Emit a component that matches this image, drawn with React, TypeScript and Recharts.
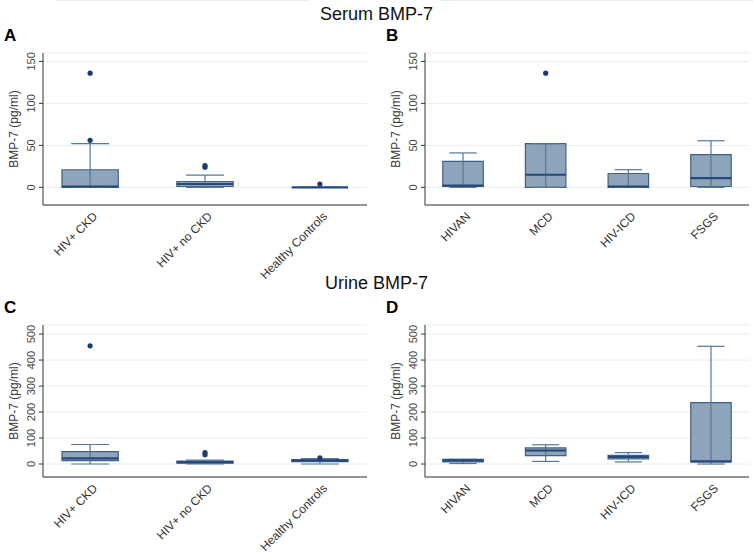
import {
  CartesianGrid,
  ComposedChart,
  ReferenceArea,
  ReferenceLine,
  Scatter,
  XAxis,
  YAxis,
} from "recharts";

// each stats row: [lower whisker, q1, median, q3, upper whisker]
const serumGroups = ["HIV+ CKD", "HIV+ no CKD", "Healthy Controls"];
const serumGroupStats = [
  [0, 0, 1, 21, 52],
  [0, 1, 4, 7, 14.5],
  [0, 0, 0, 0, 0],
];
const serumGroupOutliers = [[56, 136], [24, 26], [4]];

const serumDiseases = ["HIVAN", "MCD", "HIV-ICD", "FSGS"];
const serumDiseaseStats = [
  [0, 1, 2, 31, 41],
  [0, 0, 15, 52, 52],
  [0, 0, 1, 16.5, 21],
  [0, 1, 11, 39, 55.5],
];
const serumDiseaseOutliers = [[], [136], [], []];

const urineGroups = ["HIV+ CKD", "HIV+ no CKD", "Healthy Controls"];
const urineGroupStats = [
  [0, 13, 22, 48, 75],
  [0, 3, 7, 11, 15],
  [0, 9, 13, 17, 21],
];
const urineGroupOutliers = [[455], [36, 44], [24]];

const urineDiseases = ["HIVAN", "MCD", "HIV-ICD", "FSGS"];
const urineDiseaseStats = [
  [2, 8, 14, 18, 18],
  [10, 32, 52, 62, 74],
  [8, 20, 27, 33, 44],
  [0, 8, 10, 236, 453],
];
const urineDiseaseOutliers = [[], [], [], []];

const serumTicks = [0, 50, 100, 150];
const urineTicks = [0, 100, 200, 300, 400, 500];

const FONT = "Arial, 'Liberation Sans', sans-serif";
const BOX_HALF = 0.245;
const CAP_HALF = 0.165;
const WHISKER = "#56769a";

type BoxPanelProps = {
  letter: string;
  categories: string[];
  stats: number[][];
  outliers: number[][];
  yDomain: [number, number];
  yTicks: number[];
  xPad: number;
  left: number;
  top: number;
  width: number;
  rightMargin: number;
};

function YTick(props: any) {
  const { x, y, payload } = props;
  const tx = x - 4;
  return (
    <text
      x={tx}
      y={y}
      transform={`rotate(-90, ${tx}, ${y})`}
      textAnchor="middle"
      fontSize={11}
      fill="#444"
      fontFamily={FONT}
    >
      {payload.value}
    </text>
  );
}

function BoxPanel({
  letter,
  categories,
  stats,
  outliers,
  yDomain,
  yTicks,
  xPad,
  left,
  top,
  width,
  rightMargin,
}: BoxPanelProps) {
  const n = categories.length;
  const outlierPoints = outliers.flatMap((values, i) =>
    values.map((v) => ({ x: i + 1, y: v }))
  );

  const XTick = (props: any) => {
    const { x, y, payload } = props;
    const tx = x + 8;
    const ty = y + 12;
    return (
      <text
        x={tx}
        y={ty}
        transform={`rotate(-45, ${tx}, ${ty})`}
        textAnchor="end"
        fontSize={12}
        fill="#333"
        fontFamily={FONT}
      >
        {categories[payload.value - 1]}
      </text>
    );
  };

  return (
    <div style={{ position: "absolute", left, top }}>
      <div
        style={{
          position: "absolute",
          left: 4,
          top: -18,
          fontFamily: FONT,
          fontWeight: "bold",
          fontSize: 17,
          lineHeight: "17px",
        }}
      >
        {letter}
      </div>
      <ComposedChart
        width={width}
        height={250}
        margin={{ top: 8, right: rightMargin, bottom: 0, left: 0 }}
      >
        <CartesianGrid vertical={false} stroke="#e3eef4" />
        <XAxis
          type="number"
          dataKey="x"
          domain={[1 - xPad, n + xPad]}
          ticks={categories.map((_, i) => i + 1)}
          allowDataOverflow
          height={90}
          tickLine={false}
          tickSize={0}
          tickMargin={0}
          axisLine={{ stroke: "#333" }}
          tick={<XTick />}
          interval={0}
        />
        <YAxis
          type="number"
          dataKey="y"
          domain={yDomain}
          ticks={yTicks}
          allowDataOverflow
          width={43}
          tickSize={4}
          tickMargin={0}
          axisLine={{ stroke: "#333" }}
          tickLine={{ stroke: "#333" }}
          tick={<YTick />}
          interval={0}
          label={{
            content: ({ viewBox }: any) => {
              const lx = viewBox.x + viewBox.width - 25;
              const ly = viewBox.y + viewBox.height / 2;
              return (
                <text
                  x={lx}
                  y={ly}
                  transform={`rotate(-90, ${lx}, ${ly})`}
                  textAnchor="middle"
                  fontSize={12}
                  fill="#3a3a3a"
                  fontFamily={FONT}
                >
                  BMP-7 (pg/ml)
                </text>
              );
            },
          }}
        />
        {stats.map(([lo, , , , hi], i) => (
          <ReferenceLine
            key={`wl-${i}`}
            segment={[
              { x: i + 1, y: lo },
              { x: i + 1, y: hi },
            ]}
            stroke={WHISKER}
            strokeWidth={1.2}
            ifOverflow="visible"
          />
        ))}
        {stats.map(([lo, , , , hi], i) => [
          <ReferenceLine
            key={`ch-${i}`}
            segment={[
              { x: i + 1 - CAP_HALF, y: hi },
              { x: i + 1 + CAP_HALF, y: hi },
            ]}
            stroke={WHISKER}
            strokeWidth={1.2}
            ifOverflow="visible"
          />,
          <ReferenceLine
            key={`cl-${i}`}
            segment={[
              { x: i + 1 - CAP_HALF, y: lo },
              { x: i + 1 + CAP_HALF, y: lo },
            ]}
            stroke={WHISKER}
            strokeWidth={1.2}
            ifOverflow="visible"
          />,
        ])}
        {stats.map(([, q1, , q3], i) => (
          <ReferenceArea
            key={`box-${i}`}
            x1={i + 1 - BOX_HALF}
            x2={i + 1 + BOX_HALF}
            y1={q1}
            y2={q3}
            fill="#8ea4ba"
            fillOpacity={1}
            stroke="#3f6187"
            strokeWidth={1.2}
            ifOverflow="visible"
          />
        ))}
        {stats.map(([, , med], i) => (
          <ReferenceLine
            key={`med-${i}`}
            segment={[
              { x: i + 1 - BOX_HALF, y: med },
              { x: i + 1 + BOX_HALF, y: med },
            ]}
            stroke="#24497a"
            strokeWidth={2.2}
            ifOverflow="visible"
          />
        ))}
        <Scatter
          data={outlierPoints}
          dataKey="y"
          fill="#1b3d6b"
          isAnimationActive={false}
          shape={(p: any) => <circle cx={p.cx} cy={p.cy} r={2.6} fill="#1b3d6b" />}
        />
      </ComposedChart>
    </div>
  );
}

export default function App() {
  const titleStyle = {
    position: "absolute" as const,
    left: 0,
    width: 753,
    textAlign: "center" as const,
    fontFamily: FONT,
    fontSize: 18,
    color: "#111",
  };
  return (
    <div
      style={{
        position: "absolute",
        left: 0,
        top: 0,
        width: 753,
        height: 553,
        background: "#fff",
        overflow: "hidden",
      }}
    >
      <div style={{ position: "absolute", left: 55, top: 0, width: 255, height: 1, background: "#e6eef5" }} />
      <div style={{ position: "absolute", left: 440, top: 0, width: 313, height: 1, background: "#e6eef5" }} />
      <div style={{ ...titleStyle, top: 4 }}>Serum BMP-7</div>
      <div style={{ ...titleStyle, top: 273 }}>Urine BMP-7</div>

      <BoxPanel
        letter="A"
        categories={serumGroups}
        stats={serumGroupStats}
        outliers={serumGroupOutliers}
        yDomain={[-21, 160]}
        yTicks={serumTicks}
        xPad={0.41}
        left={0}
        top={45}
        width={375}
        rightMargin={8}
      />
      <BoxPanel
        letter="B"
        categories={serumDiseases}
        stats={serumDiseaseStats}
        outliers={serumDiseaseOutliers}
        yDomain={[-21, 160]}
        yTicks={serumTicks}
        xPad={0.46}
        left={382}
        top={45}
        width={371}
        rightMargin={4}
      />
      <BoxPanel
        letter="C"
        categories={urineGroups}
        stats={urineGroupStats}
        outliers={urineGroupOutliers}
        yDomain={[-50, 535]}
        yTicks={urineTicks}
        xPad={0.41}
        left={0}
        top={317}
        width={375}
        rightMargin={8}
      />
      <BoxPanel
        letter="D"
        categories={urineDiseases}
        stats={urineDiseaseStats}
        outliers={urineDiseaseOutliers}
        yDomain={[-50, 535]}
        yTicks={urineTicks}
        xPad={0.46}
        left={382}
        top={317}
        width={371}
        rightMargin={4}
      />
    </div>
  );
}
